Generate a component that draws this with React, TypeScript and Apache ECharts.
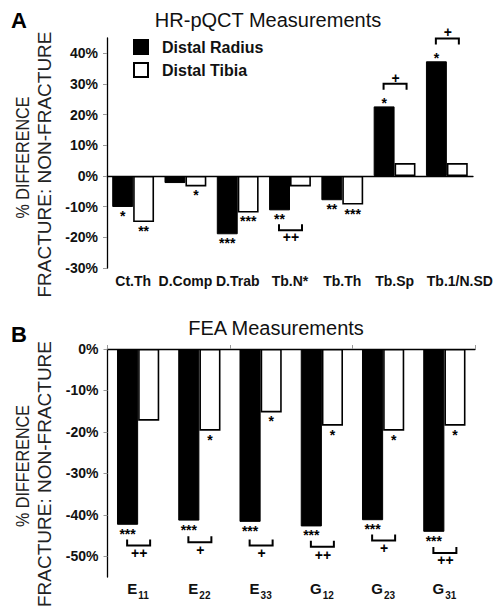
import React, { useEffect, useRef } from "react";
import * as echarts from "echarts";

// ---------- Panel A data ----------
const catsA = ["Ct.Th", "D.Comp", "D.Trab", "Tb.N*", "Tb.Th", "Tb.Sp", "Tb.1/N.SD"];
const radiusA = [-10.1, -2.3, -19.0, -11.2, -7.9, 22.7, 37.4];
const tibiaA = [-15.0, -3.4, -11.9, -3.4, -9.3, 4.2, 4.2];
const radiusStarsA = ["*", "", "***", "**", "**", "*", "*"];
const tibiaStarsA = ["**", "*", "***", "", "***", "", ""];
const bracketCatA = [3, 5, 6];
const bracketLineA = [-17.7, 30.1, 44.8];
const bracketTextA = [-20.0, 32.0, 46.8];
const bracketLabelA = ["++", "+", "+"];
const ticksA = [-30, -20, -10, 0, 10, 20, 30, 40];

// ---------- Panel B data ----------
const catsB = ["{m|E}{s|11}", "{m|E}{s|22}", "{m|E}{s|33}", "{m|G}{s|12}", "{m|G}{s|23}", "{m|G}{s|31}"];
const radiusB = [-42.4, -41.4, -41.7, -42.8, -41.3, -44.1];
const tibiaB = [-17.3, -19.7, -15.3, -18.5, -19.7, -18.5];
const radiusStarsB = ["***", "***", "***", "***", "***", "***"];
const tibiaStarsB = ["", "*", "*", "*", "*", "*"];
const bracketCatB = [0, 1, 2, 3, 4, 5];
const bracketLineB = [-47.4, -46.6, -47.4, -47.7, -46.2, -49.2];
const bracketTextB = [-49.3, -48.5, -49.3, -49.6, -48.1, -51.0];
const bracketLabelB = ["++", "+", "+", "++", "+", "++"];
const ticksB = [-50, -40, -30, -20, -10, 0];

const FONT = "'Liberation Sans', Arial, Helvetica, sans-serif";

function starData(values: number[], stars: string[]) {
  return values.map((v, i) => ({
    value: v,
    label: {
      show: stars[i] !== "",
      formatter: stars[i],
      position: "outside",
      distance: v < 0 ? 2 : -4,
    },
  }));
}

function bracketSeries(cats: number[], lines: number[], texts: number[], labels: string[], xAxisIndex: number, yAxisIndex: number) {
  return {
    type: "custom",
    xAxisIndex,
    yAxisIndex,
    clip: false,
    silent: true,
    data: cats.map((c, i) => [c, lines[i], texts[i]]),
    renderItem: (params: any, api: any) => {
      const i = params.dataIndex;
      const line = api.coord([api.value(0), api.value(1)]);
      const txt = api.coord([api.value(0), api.value(2)]);
      const neg = lines[i] < 0;
      const h = 6;
      const x0 = line[0] - 11;
      const x1 = line[0] + 12;
      const yEnd = line[1] + (neg ? -h : h);
      return {
        type: "group",
        children: [
          {
            type: "polyline",
            shape: { points: [[x0, yEnd], [x0, line[1]], [x1, line[1]], [x1, yEnd]] },
            style: { stroke: "#000", lineWidth: 2, fill: null },
          },
          {
            type: "text",
            x: txt[0] + 1,
            y: txt[1],
            style: {
              text: labels[i],
              fill: "#000",
              font: `bold 14px ${FONT}`,
              align: "center",
              verticalAlign: "middle",
            },
          },
        ],
      };
    },
  };
}

export default function App() {
  const ref = useRef<HTMLDivElement>(null);
  useEffect(() => {
    if (!ref.current) return;
    const chart = echarts.init(ref.current, null, { renderer: "svg" });
    const axisLabelStyle = {
      fontFamily: FONT,
      fontWeight: "bold",
      fontSize: 14,
      color: "#111",
    };
    const barLabelStyle = {
      fontFamily: FONT,
      fontWeight: "bold",
      fontSize: 14,
      color: "#000",
    };
    const nameText = (text: string, x: number, y: number, scale: number) => ({
      type: "text", x, y, rotation: Math.PI / 2, scaleX: scale,
      style: { text, font: `19px ${FONT}`, fill: "#222", align: "center", verticalAlign: "middle" },
    });
    const lastLabelShift = (cats: string[]) =>
      cats.map((c, i) => (i === cats.length - 1 ? { value: c, textStyle: { padding: [0, 0, 0, 26] } } : c));
    chart.setOption({
      animation: false,
      backgroundColor: "#fff",
      textStyle: { fontFamily: FONT },
      title: [
        { text: "HR-pQCT Measurements", left: 263, top: 5, textAlign: "center", textStyle: { fontFamily: FONT, fontSize: 20, fontWeight: "normal", color: "#111" } },
        { text: "FEA Measurements", left: 271, top: 313, textAlign: "center", textStyle: { fontFamily: FONT, fontSize: 20, fontWeight: "normal", color: "#111" } },
        { text: "A", left: 6, top: 4, textStyle: { fontFamily: FONT, fontSize: 22, fontWeight: "bold", color: "#000" } },
        { text: "B", left: 6, top: 318, textStyle: { fontFamily: FONT, fontSize: 22, fontWeight: "bold", color: "#000" } },
      ],
      legend: {
        left: 128,
        top: 34,
        orient: "vertical",
        itemWidth: 14,
        itemHeight: 14,
        itemGap: 7,
        icon: "rect",
        selectedMode: false,
        textStyle: { fontFamily: FONT, fontSize: 16, fontWeight: "bold", color: "#111", padding: [0, 0, 0, 9] },
        data: ["Distal Radius", "Distal Tibia"],
      },
      graphic: [
        nameText("% DIFFERENCE", 23, 157.5, 0.85),
        nameText("FRACTURE: NON-FRACTURE", 44, 164.5, 1),
        nameText("% DIFFERENCE", 23, 466, 0.85),
        nameText("FRACTURE: NON-FRACTURE", 44, 474, 1),
      ],
      grid: [
        { left: 107, top: 38, width: 366, height: 230 },
        { left: 107.5, top: 349, width: 367.5, height: 228 },
      ],
      xAxis: [
        {
          gridIndex: 0, type: "category", data: lastLabelShift(catsA), position: "bottom",
          axisLine: { show: false, onZero: false }, axisTick: { show: false },
          axisLabel: { ...axisLabelStyle, margin: 6, interval: 0 },
        },
        {
          gridIndex: 0, type: "category", data: catsA, position: "bottom",
          axisLine: { show: true, onZero: true, lineStyle: { color: "#000", width: 1.3 } },
          axisTick: { show: false }, axisLabel: { show: false },
        },
        {
          gridIndex: 1, type: "category", data: catsB, position: "bottom",
          axisLine: { show: false, onZero: false }, axisTick: { show: false },
          axisLabel: {
            ...axisLabelStyle, margin: 3, interval: 0,
            rich: {
              m: { fontFamily: FONT, fontSize: 15, fontWeight: "bold", color: "#111", lineHeight: 16 },
              s: { fontFamily: FONT, fontSize: 10, fontWeight: "bold", color: "#111", lineHeight: 12, padding: [15, 0, 0, 1] },
            },
          },
        },
        {
          gridIndex: 1, type: "category", data: catsB, position: "top",
          axisLine: { show: true, onZero: false, lineStyle: { color: "#000", width: 1.3 } },
          axisTick: { show: true, length: 4, lineStyle: { color: "#999" } }, axisLabel: { show: false },
        },
      ],
      yAxis: [
        {
          gridIndex: 0, type: "value", min: -30, max: 45,
          splitLine: { show: false },
          axisLine: { show: true, lineStyle: { color: "#000", width: 1.3 } },
          axisTick: { show: true, length: 4, lineStyle: { color: "#999" }, customValues: ticksA },
          axisLabel: { ...axisLabelStyle, margin: 9, customValues: ticksA, formatter: (v: number) => `${v}%` },
        },
        {
          gridIndex: 1, type: "value", min: -55, max: 0,
          splitLine: { show: false },
          axisLine: { show: true, lineStyle: { color: "#000", width: 1.3 } },
          axisTick: { show: true, length: 4, lineStyle: { color: "#999" }, customValues: ticksB },
          axisLabel: { ...axisLabelStyle, margin: 9, customValues: ticksB, formatter: (v: number) => `${v}%` },
        },
      ],
      series: [
        {
          name: "Distal Radius", type: "bar", xAxisIndex: 0, yAxisIndex: 0,
          barGap: "0%", barCategoryGap: "20%",
          itemStyle: { color: "#000", borderColor: "#000", borderWidth: 1 },
          label: { show: true, ...barLabelStyle },
          data: starData(radiusA, radiusStarsA),
        },
        {
          name: "Distal Tibia", type: "bar", xAxisIndex: 0, yAxisIndex: 0,
          barGap: "0%", barCategoryGap: "20%",
          itemStyle: { color: "#fff", borderColor: "#000", borderWidth: 1.6 },
          label: { show: true, ...barLabelStyle },
          data: starData(tibiaA, tibiaStarsA),
        },
        {
          name: "Distal Radius", type: "bar", xAxisIndex: 2, yAxisIndex: 1,
          barGap: "0%", barCategoryGap: "31%",
          itemStyle: { color: "#000", borderColor: "#000", borderWidth: 1 },
          label: { show: true, ...barLabelStyle },
          data: starData(radiusB, radiusStarsB),
        },
        {
          name: "Distal Tibia", type: "bar", xAxisIndex: 2, yAxisIndex: 1,
          barGap: "0%", barCategoryGap: "31%",
          itemStyle: { color: "#fff", borderColor: "#000", borderWidth: 1.6 },
          label: { show: true, ...barLabelStyle },
          data: starData(tibiaB, tibiaStarsB),
        },
        bracketSeries(bracketCatA, bracketLineA, bracketTextA, bracketLabelA, 0, 0),
        bracketSeries(bracketCatB, bracketLineB, bracketTextB, bracketLabelB, 2, 1),
      ],
    });
    return () => chart.dispose();
  }, []);
  return <div ref={ref} style={{ width: 499, height: 608, position: "absolute", left: 0, top: 0 }} />;
}
